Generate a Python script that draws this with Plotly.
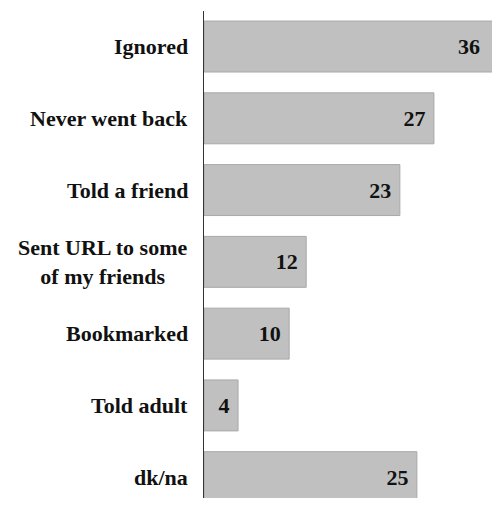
import plotly.graph_objects as go

categories = ["Ignored", "Never went back", "Told a friend",
              "Sent URL to some<br>of my friends", "Bookmarked", "Told adult", "dk/na"]
values = [36, 27, 23, 12, 10, 4, 25]

FONT = "Liberation Serif"
X_MAX = 33.82
NBSP = "\u00a0"

# bars running past the visible range get extra end padding so their label stays readable
labels = [f"{v}{NBSP * (5 if v > X_MAX else 1)}" for v in values]

fig = go.Figure()
fig.add_trace(go.Bar(
    y=categories, x=values, orientation="h",
    marker=dict(color="#c0c0c0", line=dict(color="#a8a8a8", width=1)),
    text=labels,
    textposition="inside", insidetextanchor="end",
    textfont=dict(family=FONT, size=22, color="#111111", weight="bold"),
    cliponaxis=True,
    width=0.71,
    hoverinfo="skip",
))

for c in categories:
    fig.add_annotation(
        x=0, xref="x", y=c, yref="y", text=c, showarrow=False,
        xanchor="right", xshift=-14, align="center",
        font=dict(family=FONT, size=22, color="#111111", weight="bold"),
    )

fig.update_layout(
    width=484, height=490,
    margin=dict(l=196, r=0, t=3, b=0),
    plot_bgcolor="white", paper_bgcolor="white",
    showlegend=False,
    xaxis=dict(visible=False, range=[0, X_MAX], fixedrange=True),
    yaxis=dict(type="category", range=[6.29, -0.495], showticklabels=False,
               showgrid=False, zeroline=False, ticks="",
               showline=True, linecolor="#333333", linewidth=1),
)

fig.write_html("out.html")
